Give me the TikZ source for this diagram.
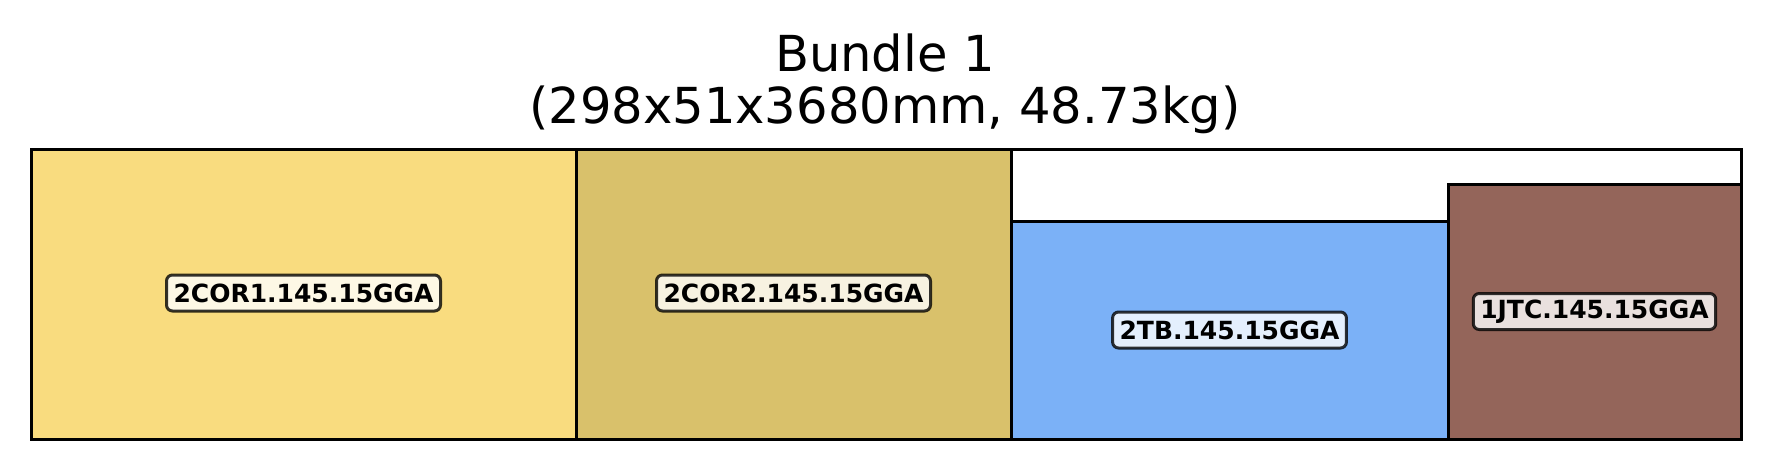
\documentclass[tikz,border=0pt]{standalone}
\usepackage{fontspec}
\setmainfont{DejaVu Sans}
\usepackage{xcolor}
\usetikzlibrary{positioning}
\definecolor{corone}{HTML}{F9DC7F}
\definecolor{cortwo}{HTML}{D9C16B}
\definecolor{tbblue}{HTML}{7BB1F7}
\definecolor{jtcbrown}{HTML}{94655A}
\tikzstyle{piece} = [draw=black, line width=3pt]
\tikzstyle{tag} = [rectangle, rounded corners=6pt, draw=black, line width=3pt, fill=white, fill opacity=0.8, draw opacity=0.8, text opacity=1, inner xsep=7pt, inner ysep=0pt, minimum height=36pt, font=\fontsize{25}{30}\selectfont\bfseries]
\tikzstyle{heading} = [anchor=base, inner sep=0pt, font=\fontsize{49.6}{56}\selectfont]

\begin{document}
\begin{tikzpicture}[x=1pt, y=-1pt]
    \useasboundingbox (0,0) rectangle (1770,469);
    \node (title1) [heading] at (885,71) {Bundle 1};
    \node (title2) [heading] at (885,123) {(298x51x3680mm, 48.73kg)};
    % bundle outline
    \draw [piece, fill=white] (31,149) rectangle (1741,439);
    % pieces
    \draw [piece, fill=corone] (31,149) rectangle (576,439);
    \draw [piece, fill=cortwo] (576,149) rectangle (1011,439);
    \draw [piece, fill=tbblue] (1011,221) rectangle (1448,439);
    \draw [piece, fill=jtcbrown] (1448,184) rectangle (1741,439);
    \node (cor1) [tag] at (303.5,293) {2COR1.145.15GGA};
    \node (cor2) [tag] at (793.5,293) {2COR2.145.15GGA};
    \node (tb) [tag] at (1229.5,330) {2TB.145.15GGA};
    \node (jtc) [tag] at (1594.5,311.5) {1JTC.145.15GGA};
\end{tikzpicture}
\end{document}
